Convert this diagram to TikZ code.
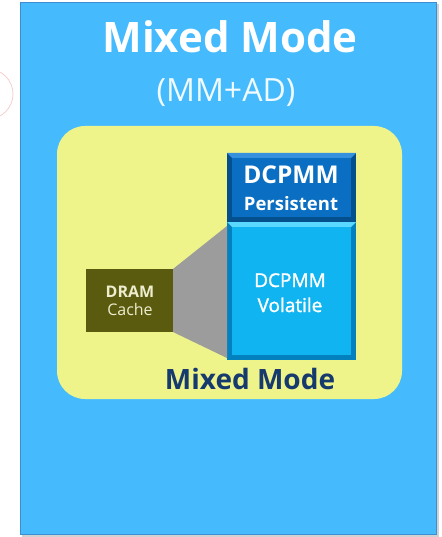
\documentclass[tikz,border=0pt]{standalone}
\usepackage{fontspec}
\setmainfont{Open Sans}
\usetikzlibrary{calc}
\definecolor{outerblue}{HTML}{45BBFD}
\definecolor{outeredge}{HTML}{3C8ED0}
\definecolor{padyellow}{HTML}{EEF38A}
\definecolor{persblue}{HTML}{0A6EC2}
\definecolor{persedge}{HTML}{04508F}
\definecolor{perslight}{HTML}{3590DE}
\definecolor{volcyan}{HTML}{10B4F0}
\definecolor{voledge}{HTML}{0380BE}
\definecolor{vollight}{HTML}{5AD8FF}
\definecolor{dramolive}{HTML}{5B5B10}
\definecolor{dramtext}{HTML}{EDEDCF}
\definecolor{linkgray}{HTML}{9C9C9C}
\definecolor{navytext}{HTML}{173A6E}
\definecolor{markpink}{HTML}{F6CACA}
\tikzset{
  plainbox/.style={rectangle, inner sep=0pt, outer sep=0pt},
  bevelbox/.style n args={3}{plainbox, fill=#2,
    path picture={
      \coordinate (bbnw) at (path picture bounding box.north west);
      \coordinate (bbse) at (path picture bounding box.south east);
      \coordinate (bbne) at (path picture bounding box.north east);
      \fill[#3] (bbnw) -- (bbne) -- ($(bbne)+(-5,5)$) -- ($(bbnw)+(5,5)$) -- cycle;
      \fill[#1] ($(bbnw)+(5,5)$) rectangle ($(bbse)+(-5,-5)$);
    }},
  titletext/.style={text=white, font=\bfseries\fontsize{42}{46}\selectfont, anchor=base},
  subtitletext/.style={text=white!92!outerblue, font=\fontsize{32}{36}\selectfont, anchor=base},
  boxlabel/.style={text=white, anchor=base},
  dramlabel/.style={text=dramtext, anchor=base},
  modetext/.style={text=navytext, font=\bfseries\fontsize{28}{32}\selectfont, anchor=base},
}
\begin{document}
\begin{tikzpicture}[x=1pt,y=-1pt]
\useasboundingbox (0,0) rectangle (441,537);
\fill[white] (0,0) rectangle (441,537);
% faint mark at left edge
\draw[markpink, line width=0.7] (-12,94) circle (25);
% outer panel
\fill[black!18] (22,4) rectangle (439,537);
\node[plainbox, fill=outerblue, draw=outeredge, line width=1.2,
      minimum width=416, minimum height=532] (outer) at (228.5,268.5) {};
% yellow pad
\node[plainbox, fill=padyellow, rounded corners=28,
      minimum width=345, minimum height=273] (pad) at (229.5,262.5) {};
% titles
\node[titletext] (title) at (230,53) {Mixed Mode};
\node[subtitletext] (subtitle) at (226,102) {(MM+AD)};
% memory boxes
\node[bevelbox={persblue}{persedge}{perslight},
      minimum width=129, minimum height=69] (pers) at (291.5,187.5) {};
\node[bevelbox={volcyan}{voledge}{vollight},
      minimum width=129, minimum height=138] (vol) at (291.5,291) {};
\node[plainbox, fill=dramolive, minimum width=87, minimum height=63] (dram) at (129.5,300.5) {};
% gray link
\fill[linkgray] (dram.north east) -- ($(vol.north west)+(0,4)$) -- ($(vol.south west)+(0,-2)$) -- (dram.south east) -- cycle;
% labels
\node[boxlabel, font=\bfseries\fontsize{24.5}{27}\selectfont] (persA) at (291,184) {DCPMM};
\node[boxlabel, font=\bfseries\fontsize{18.5}{20}\selectfont] (persB) at (291,210) {Persistent};
\node[boxlabel, font=\fontsize{19}{22}\selectfont\addfontfeature{FakeBold=1.5}] (volA) at (290,287) {DCPMM};
\node[boxlabel, font=\fontsize{19}{22}\selectfont\addfontfeature{FakeBold=1.5}] (volB) at (290,312) {Volatile};
\node[dramlabel, font=\bfseries\fontsize{16}{18}\selectfont] (dramA) at (130,297) {DRAM};
\node[dramlabel, font=\fontsize{16}{18}\selectfont] (dramB) at (130,315) {Cache};
\node[modetext] (mode) at (250,389) {Mixed Mode};
\end{tikzpicture}
\end{document}
